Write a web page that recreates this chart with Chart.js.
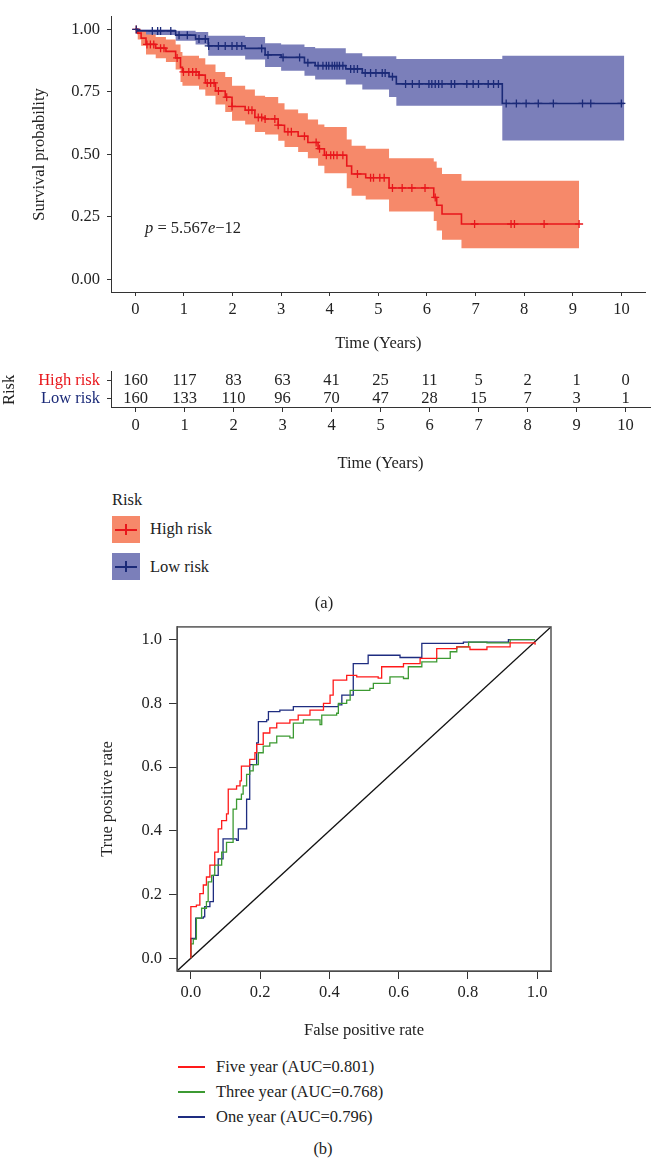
<!DOCTYPE html>
<html>
<head>
<meta charset="utf-8">
<title>Survival by risk group and time-dependent ROC</title>
<script src="https://cdn.jsdelivr.net/npm/chart.js@4.4.1/dist/chart.umd.min.js"></script>
<style>
  body { margin: 0; background: #fff; }
  #page { position: relative; width: 651px; height: 1158px; overflow: hidden;
          font-family: "Liberation Serif", "Times New Roman", serif; color: #222; }
  canvas { position: absolute; left: 0; }
  .txt { position: absolute; font-size: 16.5px; line-height: 20px; white-space: nowrap; }
  .key { position: absolute; left: 112px; width: 28px; height: 27px; }
  .key .h { position: absolute; left: 3px; right: 3px; top: 13px; height: 1.5px; }
  .key .v { position: absolute; left: 13px; width: 1.5px; top: 8px; height: 11px; }
  .rocline { position: absolute; left: 178px; width: 27px; height: 1.5px; }
</style>
</head>
<body>
<div id="page">
  <canvas id="km" width="651" height="360" style="top:0"></canvas>
  <canvas id="risk" width="651" height="125" style="top:355px"></canvas>
  <canvas id="roc" width="651" height="440" style="top:610px"></canvas>

  <div class="txt" style="left:145px;top:218px"><i>p</i> = 5.567<i>e</i>−12</div>

  <div class="txt" style="left:112px;top:490px">Risk</div>
  <div class="key" style="top:516px;background:#F6896A"><div class="h" style="background:#E8161B"></div><div class="v" style="background:#E8161B"></div></div>
  <div class="txt" style="left:150px;top:519px">High risk</div>
  <div class="key" style="top:553px;background:#7B7FBA"><div class="h" style="background:#1B2A78"></div><div class="v" style="background:#1B2A78"></div></div>
  <div class="txt" style="left:150px;top:557px">Low risk</div>
  <div class="txt" style="left:304px;width:40px;text-align:center;top:593px">(a)</div>

  <div class="rocline" style="top:1066px;background:#FF1A1A"></div>
  <div class="txt" style="left:216px;top:1057px">Five year (AUC=0.801)</div>
  <div class="rocline" style="top:1091px;background:#3C9A32"></div>
  <div class="txt" style="left:216px;top:1082px">Three year (AUC=0.768)</div>
  <div class="rocline" style="top:1116px;background:#1E2C80"></div>
  <div class="txt" style="left:216px;top:1107px">One year (AUC=0.796)</div>
  <div class="txt" style="left:303px;width:40px;text-align:center;top:1139px">(b)</div>
</div>

<script>
// ---------------- DATA: survival curves ----------------
const highTimes = [0, 0.05, 0.12, 0.22, 0.42, 0.63, 0.83, 0.93, 0.97, 1.31, 1.44, 1.65, 1.85, 1.99, 2.26, 2.46,
  2.67, 2.94, 3.07, 3.35, 3.55, 3.76, 3.89, 4.35, 4.45, 4.74, 5.22, 6.14, 6.2, 6.31, 6.71, 9.13];
const highSurv = [1, 0.985, 0.965, 0.94, 0.925, 0.912, 0.886, 0.848, 0.83, 0.817, 0.786, 0.754, 0.729, 0.692, 0.677, 0.648,
  0.642, 0.617, 0.591, 0.573, 0.548, 0.523, 0.497, 0.454, 0.422, 0.407, 0.366, 0.328, 0.297, 0.262, 0.222, 0.222];
const highUpper = [1, 1, 0.995, 0.98, 0.97, 0.96, 0.94, 0.91, 0.895, 0.885, 0.86, 0.83, 0.81, 0.775, 0.76, 0.735,
  0.73, 0.705, 0.68, 0.665, 0.64, 0.62, 0.61, 0.56, 0.535, 0.523, 0.485, 0.472, 0.447, 0.422, 0.395, 0.395];
const highLower = [1, 0.96, 0.935, 0.9, 0.885, 0.87, 0.84, 0.79, 0.775, 0.76, 0.735, 0.7, 0.67, 0.635, 0.62, 0.59,
  0.58, 0.555, 0.53, 0.51, 0.485, 0.455, 0.425, 0.365, 0.335, 0.32, 0.272, 0.234, 0.196, 0.159, 0.125, 0.125];

const lowTimes = [0, 0.05, 0.83, 1.24, 1.5, 2.26, 2.67, 3.0, 3.48, 3.7, 4.33, 4.67, 5.22, 5.37, 7.55, 10.06];
const lowSurv = [1, 0.994, 0.977, 0.962, 0.934, 0.924, 0.898, 0.888, 0.867, 0.855, 0.842, 0.826, 0.811, 0.782, 0.704, 0.704];
const lowUpper = [1, 1, 0.995, 0.99, 0.975, 0.97, 0.945, 0.94, 0.93, 0.925, 0.905, 0.893, 0.893, 0.882, 0.895, 0.895];
const lowLower = [1, 0.978, 0.955, 0.94, 0.895, 0.88, 0.85, 0.835, 0.815, 0.8, 0.78, 0.76, 0.73, 0.695, 0.556, 0.556];

// censoring times (the "+" marks)
const highCensor = [0.02, 0.24, 0.31, 0.38, 0.52, 0.59, 0.86, 0.99, 1.1, 1.18, 1.25, 1.31, 1.48, 1.55, 1.62, 1.71,
  1.88, 1.99, 2.33, 2.4, 2.53, 2.6, 2.67, 2.87, 2.94, 3.14, 3.21, 3.48, 3.72, 3.79, 3.93, 4.02, 4.08, 4.15, 4.27,
  4.57, 4.84, 4.9, 5.03, 5.12, 5.29, 5.49, 5.69, 5.96, 6.17, 6.98, 7.73, 7.8, 8.41, 9.13];
const lowCensor = [0.02, 0.35, 0.46, 0.52, 0.73, 0.9, 1.07, 1.31, 1.44, 1.51, 1.71, 1.85, 1.99, 2.09, 2.19, 2.6,
  2.73, 3.04, 3.38, 3.55, 3.76, 3.86, 3.93, 3.98, 4.05, 4.1, 4.15, 4.2, 4.27, 4.43, 4.5, 4.57, 4.73, 4.84, 4.95,
  5.08, 5.14, 5.29, 5.56, 5.7, 5.84, 6.04, 6.1, 6.17, 6.24, 6.31, 6.5, 6.57, 6.82, 6.95, 7.06, 7.26, 7.37, 7.47,
  7.63, 7.84, 8.04, 8.29, 8.6, 9.2, 9.37, 10.0];

// ---------------- DATA: number at risk ----------------
const riskTimes = [0, 1, 2, 3, 4, 5, 6, 7, 8, 9, 10];
const riskGroups = ["High risk", "Low risk"];
const highAtRisk = [160, 117, 83, 63, 41, 25, 11, 5, 2, 1, 0];
const lowAtRisk = [160, 133, 110, 96, 70, 47, 28, 15, 7, 3, 1];
const survTicks = [0, 0.25, 0.5, 0.75, 1];

// ---------------- DATA: ROC curves ----------------
const fiveFpr = [0, 0, 0.016, 0.026, 0.036, 0.045, 0.055, 0.069, 0.079, 0.089, 0.103, 0.108, 0.132, 0.142, 0.146,
  0.17, 0.185, 0.19, 0.209, 0.228, 0.248, 0.286, 0.31, 0.344, 0.383, 0.402, 0.411, 0.45, 0.479, 0.541, 0.551,
  0.614, 0.662, 0.71, 0.768, 0.806, 0.855, 0.922, 0.994];
const fiveTpr = [0, 0.162, 0.167, 0.203, 0.23, 0.255, 0.292, 0.333, 0.406, 0.432, 0.453, 0.531, 0.541, 0.557, 0.603,
  0.624, 0.645, 0.671, 0.707, 0.723, 0.738, 0.748, 0.763, 0.779, 0.8, 0.826, 0.873, 0.888, 0.883, 0.879, 0.915,
  0.925, 0.941, 0.972, 0.977, 0.969, 0.977, 0.99, 0.984];
const threeFpr = [0, 0, 0.007, 0.016, 0.031, 0.045, 0.05, 0.06, 0.069, 0.089, 0.103, 0.122, 0.132, 0.146, 0.151,
  0.161, 0.17, 0.18, 0.195, 0.209, 0.228, 0.248, 0.286, 0.296, 0.325, 0.373, 0.378, 0.421, 0.426, 0.45, 0.46,
  0.517, 0.527, 0.575, 0.614, 0.628, 0.667, 0.71, 0.749, 0.768, 0.802, 0.855, 0.922, 0.994];
const threeTpr = [0, 0.045, 0.06, 0.126, 0.157, 0.178, 0.24, 0.26, 0.292, 0.333, 0.364, 0.468, 0.499, 0.515, 0.541,
  0.577, 0.588, 0.608, 0.645, 0.666, 0.676, 0.697, 0.692, 0.738, 0.748, 0.733, 0.763, 0.769, 0.8, 0.81, 0.841,
  0.847, 0.863, 0.883, 0.878, 0.915, 0.93, 0.941, 0.962, 0.977, 0.992, 0.99, 1.0, 1.0];
const oneFpr = [0, 0, 0.014, 0.036, 0.04, 0.055, 0.065, 0.079, 0.093, 0.132, 0.137, 0.161, 0.17, 0.19, 0.195,
  0.219, 0.224, 0.257, 0.296, 0.426, 0.436, 0.469, 0.512, 0.604, 0.647, 0.667, 0.787, 0.917, 0.994];
const oneTpr = [0, 0.062, 0.126, 0.13, 0.162, 0.178, 0.26, 0.312, 0.375, 0.37, 0.406, 0.499, 0.608, 0.676, 0.743,
  0.748, 0.774, 0.779, 0.79, 0.795, 0.826, 0.925, 0.951, 0.944, 0.944, 0.988, 0.992, 1.0, 1.0];
const diagX = [-0.04, 1.04];
const diagY = [-0.04, 1.04];
const rocTicks = [0, 0.2, 0.4, 0.6, 0.8, 1.0];

// ---------------- STYLE ----------------
const bandRed = "#F6896A", bandBlue = "#7B7FBA";
const lineRed = "#E8161B", lineBlue = "#1B2A78";
const rocRed = "#FF1A1A", rocGreen = "#3C9A32", rocBlue = "#1E2C80";

Chart.defaults.font.family = '"Liberation Serif", "Times New Roman", serif';
Chart.defaults.font.size = 16.5;
Chart.defaults.color = "#222";

const toPts = (xs, ys) => xs.map((x, i) => ({ x: x, y: ys[i] }));

// survival value in force at time t (for placing censor marks on the curve)
function survAt(times, vals, t) {
  let v = vals[0];
  times.forEach((tt, i) => { if (tt <= t) v = vals[i]; });
  return v;
}
const censorPts = (cens, times, vals) => cens.map((t) => ({ x: t, y: survAt(times, vals, t) }));

function axisLook(tickLen) {
  return {
    grid: { display: true, drawOnChartArea: false, drawTicks: true, tickLength: tickLen, color: "#333" },
    border: { display: true, color: "#333", width: 1 },
  };
}

function timeAxis(height, titleBottom) {
  return Object.assign({
    type: "linear",
    min: -0.5,
    max: 10.5,
    afterBuildTicks: (s) => { s.ticks = riskTimes.map((v) => ({ value: v })); },
    afterFit: (s) => { s.height = height; },
    ticks: { padding: 4, maxRotation: 0, autoSkip: false },
    title: { display: true, text: "Time (Years)", padding: { top: 0, bottom: titleBottom } },
  }, axisLook(4));
}

const hidden = "rgba(0,0,0,0)";
function band(times, vals, color, fill) {
  return { data: toPts(times, vals), stepped: true, borderColor: hidden, borderWidth: 1,
           pointRadius: 0, backgroundColor: color, fill: fill };
}
function censorSet(cens, times, vals, color) {
  return { data: censorPts(cens, times, vals), showLine: false, pointStyle: "cross", pointRadius: 4,
           borderColor: color, pointBorderColor: color, pointBorderWidth: 1.3 };
}

// ---------------- SURVIVAL CHART ----------------
new Chart(document.getElementById("km"), {
  type: "line",
  data: {
    datasets: [
      { data: toPts(lowTimes, lowSurv), stepped: true, borderColor: lineBlue, borderWidth: 1.6, pointRadius: 0, fill: false },
      { data: toPts(highTimes, highSurv), stepped: true, borderColor: lineRed, borderWidth: 1.6, pointRadius: 0, fill: false },
      censorSet(lowCensor, lowTimes, lowSurv, lineBlue),
      censorSet(highCensor, highTimes, highSurv, lineRed),
      band(highTimes, highUpper, bandRed, "+1"),
      band(highTimes, highLower, bandRed, false),
      band(lowTimes, lowUpper, bandBlue, "+1"),
      band(lowTimes, lowLower, bandBlue, false),
    ],
  },
  options: {
    responsive: false,
    animation: false,
    layout: { padding: { right: 1 } },
    plugins: { legend: { display: false }, tooltip: { enabled: false } },
    scales: {
      x: timeAxis(68, 6.1),
      y: Object.assign({
        min: -0.05,
        max: 1.05,
        afterBuildTicks: (s) => { s.ticks = survTicks.map((v) => ({ value: v })); },
        afterFit: (s) => { s.width = 111; },
        ticks: { padding: 7, callback: (v) => Number(v).toFixed(2) },
        title: { display: true, text: "Survival probability", padding: { top: 30.1, bottom: 0 } },
      }, axisLook(4)),
    },
  },
});

// ---------------- RISK TABLE ----------------
const riskNumbers = {
  id: "riskNumbers",
  afterDatasetsDraw(chart) {
    const ctx = chart.ctx;
    ctx.save();
    ctx.font = '16.5px "Liberation Serif", serif';
    ctx.fillStyle = "#222";
    ctx.textAlign = "center";
    ctx.textBaseline = "middle";
    chart.data.datasets.forEach((ds, i) => {
      chart.getDatasetMeta(i).data.forEach((pt, j) => {
        ctx.fillText(String(ds.data[j].n), pt.x, pt.y);
      });
    });
    ctx.restore();
  },
};

new Chart(document.getElementById("risk"), {
  type: "scatter",
  data: {
    datasets: [
      { data: riskTimes.map((t, i) => ({ x: t, y: riskGroups[0], n: highAtRisk[i] })), pointRadius: 0 },
      { data: riskTimes.map((t, i) => ({ x: t, y: riskGroups[1], n: lowAtRisk[i] })), pointRadius: 0 },
    ],
  },
  options: {
    responsive: false,
    animation: false,
    layout: { padding: { top: 8, right: 1 } },
    plugins: { legend: { display: false }, tooltip: { enabled: false } },
    scales: {
      x: timeAxis(72, 6.1),
      y: Object.assign({
        type: "category",
        labels: riskGroups,
        offset: true,
        afterFit: (s) => { s.width = 111; },
        ticks: { padding: 7, autoSkip: false, color: (c) => (c.index === 0 ? lineRed : lineBlue) },
        title: { display: true, text: "Risk", padding: { top: 0, bottom: 0 } },
      }, axisLook(4)),
    },
  },
  plugins: [riskNumbers],
});

// ---------------- ROC CHART ----------------
const plotBox = {
  id: "plotBox",
  afterDraw(chart) {
    const { left, top, right, bottom } = chart.chartArea;
    const ctx = chart.ctx;
    ctx.save();
    ctx.strokeStyle = "#555";
    ctx.lineWidth = 1.5;
    ctx.strokeRect(left, top, right - left, bottom - top);
    ctx.restore();
  },
};

function rocAxis(extra) {
  return Object.assign({
    type: "linear",
    min: -0.04,
    max: 1.04,
    afterBuildTicks: (s) => { s.ticks = rocTicks.map((v) => ({ value: v })); },
  }, axisLook(8), extra);
}

new Chart(document.getElementById("roc"), {
  type: "line",
  data: {
    datasets: [
      { label: "Five year", data: toPts(fiveFpr, fiveTpr), stepped: true, borderColor: rocRed, borderWidth: 1.3, pointRadius: 0 },
      { label: "Three year", data: toPts(threeFpr, threeTpr), stepped: true, borderColor: rocGreen, borderWidth: 1.3, pointRadius: 0 },
      { label: "One year", data: toPts(oneFpr, oneTpr), stepped: true, borderColor: rocBlue, borderWidth: 1.3, pointRadius: 0 },
      { data: toPts(diagX, diagY), borderColor: "#111", borderWidth: 1.3, pointRadius: 0 },
    ],
  },
  options: {
    responsive: false,
    animation: false,
    layout: { padding: { top: 13, right: 100 } },
    plugins: { legend: { display: false }, tooltip: { enabled: false } },
    scales: {
      x: rocAxis({
        afterFit: (s) => { s.height = 79; },
        ticks: { padding: 4, maxRotation: 0, autoSkip: false, callback: (v) => Number(v).toFixed(1) },
        title: { display: true, text: "False positive rate", padding: { top: 0, bottom: 9.1 } },
      }),
      y: rocAxis({
        afterFit: (s) => { s.width = 177; },
        ticks: { padding: 7, autoSkip: false, callback: (v) => Number(v).toFixed(1) },
        title: { display: true, text: "True positive rate", padding: { top: 98.1, bottom: 0 } },
      }),
    },
  },
  plugins: [plotBox],
});
</script>
</body>
</html>
